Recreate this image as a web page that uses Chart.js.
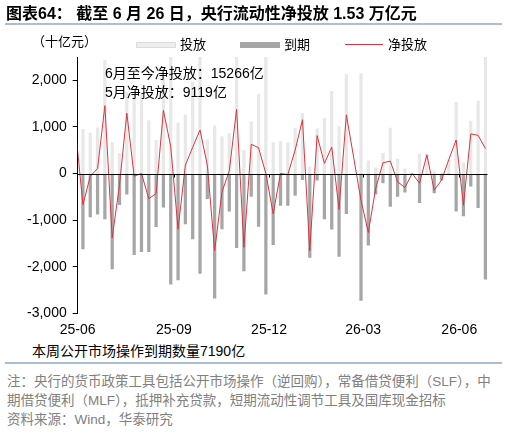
<!DOCTYPE html>
<html>
<head>
<meta charset="utf-8">
<script src="https://cdn.jsdelivr.net/npm/chart.js@4.4.1/dist/chart.umd.min.js"></script>
<style>
  body { margin: 0; width: 507px; height: 432px; background: #fff; position: relative; overflow: hidden;
         font-family: "Liberation Sans", "Noto Sans CJK SC", sans-serif; color: #000; }
  .abs { position: absolute; white-space: nowrap; }
  .title { left: 6px; top: 4px; font-size: 16px; font-weight: bold; line-height: 20px; }
  .rule { position: absolute; left: 5px; width: 497px; height: 2px; background: #a9bdd4; }
  .chartBox { position: absolute; left: 0; top: 0; width: 507px; height: 340px; }
  .unit { left: 32px; top: 33px; font-size: 13px; line-height: 17px; }
  .legend { top: 36px; font-size: 13px; line-height: 17px; }
  .swatch { position: absolute; height: 6px; }
  .note { left: 105px; font-size: 14px; line-height: 18px; }
  .sub { left: 32px; top: 342px; font-size: 14px; line-height: 18px; }
  .foot { left: 7px; font-size: 13.5px; line-height: 18px; color: #808080; }
</style>
</head>
<body>
<div class="chartBox"><canvas id="liquidity"></canvas></div>

<div class="abs title">图表64：&nbsp;截至 6 月 26 日，央行流动性净投放 1.53 万亿元</div>
<div class="rule" style="top:23px"></div>

<div class="abs unit">（十亿元）</div>
<div class="swatch" style="left:136px;top:42px;width:38px;background:#ededed;border:1px solid #dcdcdc;height:4px"></div>
<div class="abs legend" style="left:180px">投放</div>
<div class="swatch" style="left:240px;top:42px;width:40px;background:#a6a6a6"></div>
<div class="abs legend" style="left:284px">到期</div>
<div class="swatch" style="left:345px;top:44px;width:38px;height:1px;background:#d9363e"></div>
<div class="abs legend" style="left:388px">净投放</div>

<div class="abs note" style="top:64px">6月至今净投放：15266亿</div>
<div class="abs note" style="top:83px">5月净投放：9119亿</div>

<div class="abs sub">本周公开市场操作到期数量7190亿</div>
<div class="rule" style="top:362px"></div>
<div class="abs foot" style="top:373px">注：央行的货币政策工具包括公开市场操作（逆回购），常备借贷便利（SLF），中</div>
<div class="abs foot" style="top:392px">期借贷便利（MLF），抵押补充贷款，短期流动性调节工具及国库现金招标</div>
<div class="abs foot" style="top:411px">资料来源：Wind，华泰研究</div>

<script>
// weekly data, 十亿元
var weekDates = [
  "2025-05-30", "2025-06-06", "2025-06-13", "2025-06-20", "2025-06-27", "2025-07-04", "2025-07-11",
  "2025-07-18", "2025-07-25", "2025-08-01", "2025-08-08", "2025-08-15", "2025-08-22", "2025-08-29",
  "2025-09-05", "2025-09-12", "2025-09-19", "2025-09-26", "2025-10-03", "2025-10-10", "2025-10-17",
  "2025-10-24", "2025-10-31", "2025-11-07", "2025-11-14", "2025-11-21", "2025-11-28", "2025-12-05",
  "2025-12-12", "2025-12-19", "2025-12-26", "2026-01-02", "2026-01-09", "2026-01-16", "2026-01-23",
  "2026-01-30", "2026-02-06", "2026-02-13", "2026-02-20", "2026-02-27", "2026-03-06", "2026-03-13",
  "2026-03-20", "2026-03-27", "2026-04-03", "2026-04-10", "2026-04-17", "2026-04-24", "2026-05-01",
  "2026-05-08", "2026-05-15", "2026-05-22", "2026-05-29", "2026-06-05", "2026-06-12", "2026-06-19",
  "2026-06-26"
];

var issuance = [
  null, 950, 870, 980, 2430, 665, 432, 1740, 1684, 1680, 1138, 710, 2074, 2950,
  1090, 1260, 1966, 3080, 720, 1022, 790, 864, 2970, 504, 1116, 1692, 2592, 662,
  684, 662, 972, 1290, 144, 958, 1188, 1764, 1008, 2124, null, 2146, 274, 120,
  432, 972, 310, 100, 0, 418, 418, 58, 0, 300, 1526, 230, 1124, 1554, 2805
];

var maturity = [
  null, -1620, -930, -875, -975, -2050, -670, -445, -1742, -1680, -1678, -1140, -720, -2376,
  -2285, -1080, -1404, -2146, -540, -2678, -1188, -806, -1590, -2088, -490, -1138, -2592, -1527,
  -685, -685, -469, -135, -1801, -144, -972, -1195, -1780, -864, null, -2722, -1540, -445,
  -202, -706, -490, -400, 0, -626, -18, -418, -144, 0, -806, -910, -274, -734, -2268
];

var netInjection = [
  930, -670, -60, 105, 1455, -1385, -238, 1295, -58, 0, -540, -430, 1354, 574,
  -1195, 180, 562, 934, 180, -1656, -398, 58, 1380, -1584, 626, 554, 0, -865,
  -1, -23, 503, 1155, -1657, 814, 216, 569, -772, 1260, null, -576, -1266, -325,
  230, 266, -180, -300, 0, -208, 400, -360, -144, 300, 720, -680, 850, 820, 537
];

var tickDates = ["2025-06-01", "2025-09-01", "2025-12-01", "2026-03-01", "2026-06-01"];
var tickLabels = ["25-06", "25-09", "25-12", "26-03", "26-06"];
var yTicks = [-3000, -2000, -1000, 0, 1000, 2000];

// days since 2025-06-01
function dayNo(s) {
  var p = s.split("-");
  return (Date.UTC(+p[0], +p[1] - 1, +p[2]) - Date.UTC(2025, 5, 1)) / 86400000;
}

function points(values) {
  return weekDates.map(function (d, i) {
    return { x: dayNo(d), y: values[i] };
  });
}

var tickDays = tickDates.map(dayNo);

// zero line + small ticks on it
var zeroLine = {
  id: "zeroLine",
  afterDatasetsDraw: function (chart) {
    var ctx = chart.ctx;
    var area = chart.chartArea;
    var y0 = Math.round(chart.scales.y.getPixelForValue(0)) + 0.5;
    ctx.save();
    ctx.strokeStyle = "#000";
    ctx.lineWidth = 1;
    ctx.beginPath();
    ctx.moveTo(area.left, y0);
    ctx.lineTo(area.right, y0);
    tickDays.forEach(function (d, i) {
      if (i === 0) return;
      var x = Math.round(chart.scales.x.getPixelForValue(d)) + 0.5;
      ctx.moveTo(x, y0);
      ctx.lineTo(x, y0 + 3);
    });
    ctx.stroke();
    ctx.restore();
  },
};

var ctx = document.getElementById("liquidity").getContext("2d");

var liquidity = new Chart(ctx, {
  data: {
    datasets: [
      {
        type: "line",
        label: "净投放",
        data: points(netInjection),
        borderColor: "#d9363e",
        borderWidth: 1,
        pointRadius: 0,
        spanGaps: true,
        tension: 0,
        clip: 0,
        order: 0,
      },
      {
        type: "bar",
        label: "投放",
        data: points(issuance),
        backgroundColor: "#e8e8e8",
        barThickness: 2.6,
        grouped: false,
        clip: 0,
        order: 1,
      },
      {
        type: "bar",
        label: "到期",
        data: points(maturity),
        backgroundColor: "#a6a6a6",
        barThickness: 2.6,
        grouped: false,
        clip: 0,
        order: 2,
      },
    ],
  },
  options: {
    responsive: true,
    maintainAspectRatio: false,
    animation: false,
    layout: {
      padding: { top: 57, right: 19.5, bottom: 4.7, left: 0 },
    },
    plugins: {
      legend: { display: false },
      tooltip: { enabled: false },
    },
    scales: {
      x: {
        type: "linear",
        min: 0,
        max: 392,
        offset: false,
        grid: { display: false, drawTicks: false, offset: false },
        border: { display: false },
        afterBuildTicks: function (scale) {
          scale.ticks = tickDays.map(function (d) {
            return { value: d };
          });
        },
        afterFit: function (scale) {
          scale.height = 22;
        },
        ticks: {
          padding: 8,
          maxRotation: 0,
          autoSkip: false,
          color: "#000",
          font: { family: "Liberation Sans", size: 14 },
          callback: function (value) {
            var i = tickDays.indexOf(value);
            return i >= 0 ? tickLabels[i] : "";
          },
        },
      },
      y: {
        min: -3000,
        max: 2500,
        grid: { drawOnChartArea: false, tickLength: 5, tickColor: "#000" },
        border: { display: true, color: "#000", width: 1 },
        afterBuildTicks: function (scale) {
          scale.ticks = yTicks.map(function (v) {
            return { value: v };
          });
        },
        afterFit: function (scale) {
          scale.width = 77.7;
        },
        ticks: {
          padding: 6,
          color: "#000",
          font: { family: "Liberation Sans", size: 14 },
          callback: function (value) {
            return value.toLocaleString("en-US");
          },
        },
      },
    },
  },
  plugins: [zeroLine],
});
</script>
</body>
</html>
